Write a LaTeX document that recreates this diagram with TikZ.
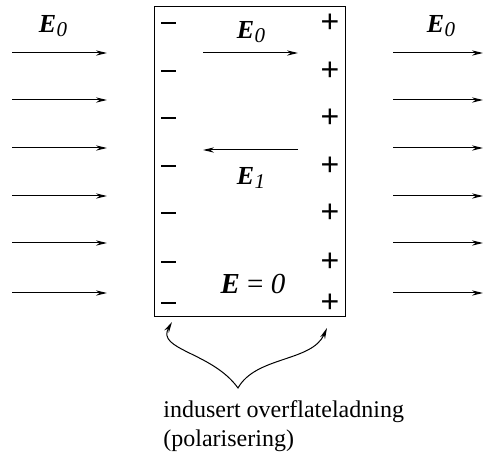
\documentclass[tikz,border=0pt]{standalone}
\usepackage{fontspec}
\setmainfont{Liberation Serif}
\newfontfamily\signfont{Liberation Sans}
\usetikzlibrary{arrows.meta}
\tikzset{
  fld/.style={line width=0.5pt,-{Stealth[length=5.5pt,width=2.6pt]}},
  sgn/.style={font=\signfont\fontsize{16}{16}\selectfont,inner sep=0pt},
  elab/.style={font=\fontsize{13}{13}\selectfont,inner sep=0pt},
  txt/.style={font=\fontsize{12}{14}\selectfont,inner sep=0pt,anchor=base west},
}
\newcommand{\Evec}[1]{{\bfseries\itshape E}\kern0.3pt\raisebox{-0.35ex}{\itshape\fontsize{10.5}{10.5}\selectfont #1}}
\begin{document}
\begin{tikzpicture}[x=0.5pt,y=-0.5pt]
\useasboundingbox (0,0) rectangle (483,460);
% slab
\node[draw,line width=0.5pt,minimum width=95.5pt,minimum height=155pt,inner sep=0pt,anchor=north west] (slab) at (154,6) {};
% signs
\foreach \y [count=\i] in {23,71,118,166,213,262,303}{
  \node[inner sep=0pt] (m\i) at (169,\y) {\rule{7.5pt}{1pt}};
  \node[sgn] (p\i) at (330,\y) {+};
}
% outside field arrows
\foreach \y [count=\i] in {53,100,148,196,243,293}{
  \coordinate (la\i) at (12,\y); \coordinate (lb\i) at (107,\y);
  \coordinate (ra\i) at (393,\y); \coordinate (rb\i) at (483,\y);
  \draw[fld] (la\i) -- (lb\i);
  \draw[fld] (ra\i) -- (rb\i);
}
\node[elab] (el) at (53,26) {\Evec{0}};
\node[elab] (er) at (441,26) {\Evec{0}};
% inside
\coordinate (ia) at (203,53); \coordinate (ib) at (298,53);
\draw[fld] (ia) -- (ib);
\node[elab] (ei0) at (251,32) {\Evec{0}};
\coordinate (ja) at (298,150); \coordinate (jb) at (203,150);
\draw[fld] (ja) -- (jb);
\node[elab] (ei1) at (251,178) {\Evec{1}};
\node[inner sep=0pt,font=\fontsize{14.5}{15}\selectfont] (ez) at (253,284) {{\bfseries\itshape E} = {\itshape 0}};
% brace arrows
\coordinate (tl) at (172,322);
\coordinate (tr) at (327,328);
\coordinate (mid) at (238,388);
\draw[line width=0.5pt,{Stealth[length=5.5pt,width=2.6pt]}-{Stealth[length=5.5pt,width=2.6pt]}]
  (tl) .. controls (156,350) and (212,352) .. (mid)
  .. controls (256,356) and (312,362) .. (tr);
\node[txt] (t1) at (163,418) {indusert overflateladning};
\node[txt] (t2) at (163,446) {(polarisering)};
\end{tikzpicture}
\end{document}
